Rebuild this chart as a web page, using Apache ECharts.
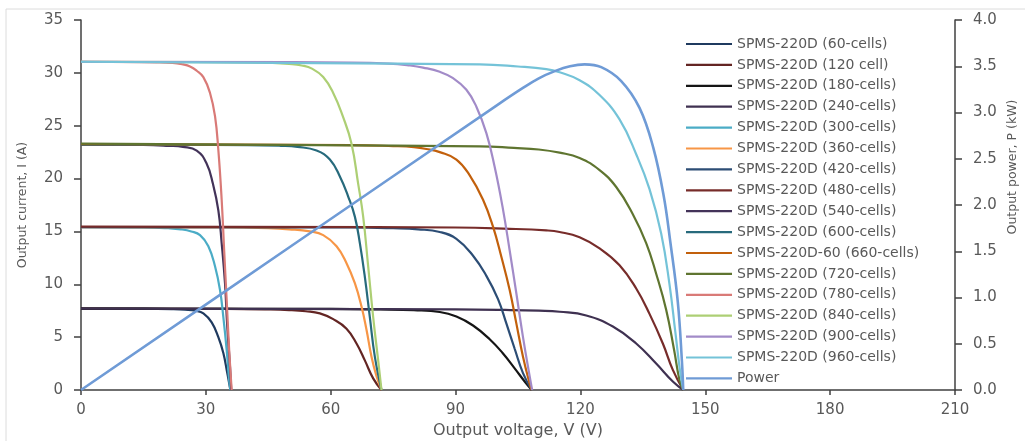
<!DOCTYPE html>
<html><head><meta charset="utf-8">
<script src="https://cdn.jsdelivr.net/npm/echarts@6/dist/echarts.min.js"></script>
<style>html,body{margin:0;padding:0;background:#fff}#c{width:1025px;height:441px}</style>
</head><body><div id="c"></div>
<script>
// ---- Data (voltage V, current A) ----
const seriesNames = [
  'SPMS-220D (60-cells)', 'SPMS-220D (120 cell)', 'SPMS-220D (180-cells)', 'SPMS-220D (240-cells)',
  'SPMS-220D (300-cells)', 'SPMS-220D (360-cells)', 'SPMS-220D (420-cells)', 'SPMS-220D (480-cells)',
  'SPMS-220D (540-cells)', 'SPMS-220D (600-cells)', 'SPMS-220D-60 (660-cells)', 'SPMS-220D (720-cells)',
  'SPMS-220D (780-cells)', 'SPMS-220D (840-cells)', 'SPMS-220D (900-cells)', 'SPMS-220D (960-cells)'
];
const powerName = 'Power';

const s60  = [[0,7.7],[15,7.69],[22,7.65],[25,7.6],[27.5,7.5],[29.4,7.25],[31.4,6.4],[33,5.0],[34.2,3.5],[35.1,1.7],[35.9,0]];
const s120 = [[0,7.7],[35,7.67],[45,7.62],[50,7.56],[54,7.45],[57.4,7.25],[60.6,6.7],[63.8,5.8],[66.2,4.4],[68.2,2.8],[70.2,1.1],[72.2,0]];
const s180 = [[0,7.7],[60,7.67],[72,7.62],[80,7.55],[86.2,7.38],[90.2,6.95],[94.2,6.1],[98.2,4.8],[101.3,3.5],[104.2,2.05],[106.6,0.8],[108.3,0]];
const s240 = [[0,7.7],[90,7.62],[102,7.57],[110,7.5],[115,7.4],[121.4,7.05],[127.8,6.0],[133.4,4.4],[138.2,2.5],[142.2,0.8],[144.7,0]];
const s300 = [[0,15.4],[15,15.38],[21,15.3],[24,15.2],[26.5,15.0],[28.6,14.65],[30.6,13.6],[32.2,11.7],[33.4,9.46],[34.2,6.9],[35,3.8],[35.6,0.9],[35.9,0]];
const s360 = [[0,15.4],[35,15.37],[45,15.3],[50,15.2],[55,15.0],[58.2,14.65],[61.4,13.6],[63.8,12.0],[65.8,10.1],[67.4,7.9],[68.6,5.7],[69.8,3.15],[71,1.3],[72.2,0]];
const s420 = [[0,15.4],[65,15.37],[75,15.3],[81,15.2],[86.2,14.95],[90.2,14.3],[94.2,12.7],[97.4,10.8],[100.2,8.6],[102.2,6.3],[104.2,3.9],[106.2,1.6],[108.3,0]];
const s480 = [[0,15.45],[90,15.37],[103,15.25],[111.8,15.1],[115,14.95],[119.8,14.45],[124.6,13.4],[129.4,11.8],[133.4,9.6],[136.6,7.2],[139.8,4.4],[142.2,1.9],[144.7,0]];
const s540 = [[0,23.2],[15,23.18],[21,23.1],[24.5,23.0],[27.8,22.65],[30.2,21.4],[31.7,19.5],[33,17.0],[33.8,13.9],[34.6,10.1],[35.1,6.3],[35.8,2.2],[36.1,0]];
const s600 = [[0,23.2],[40,23.17],[48,23.1],[52,23.0],[56.6,22.65],[59.8,21.8],[62.2,20.2],[64.2,18.3],[65.8,16.4],[67,13.9],[68.2,10.7],[69.4,6.9],[70.6,3.15],[72.2,0]];
const s660 = [[0,23.25],[65,23.17],[75,23.07],[80,22.97],[83,22.8],[86.2,22.5],[90.2,21.8],[93.4,20.3],[96.6,18.0],[99,15.45],[101,12.6],[103,9.46],[104.6,6.3],[106.2,3.15],[107.8,0.6],[108.3,0]];
const s720 = [[0,23.3],[95.8,23.05],[104,22.9],[110,22.75],[115,22.45],[119.8,21.95],[124.6,20.8],[128.6,19.2],[132.5,16.7],[135.8,13.9],[138.2,11.0],[140.6,7.6],[142.5,3.8],[143.8,0.95],[144.7,0]];
const s780 = [[0,31.05],[18,31.0],[22,30.95],[24.5,30.8],[26.2,30.6],[27.8,30.2],[29.4,29.6],[31,28.1],[32.2,25.9],[33,22.7],[33.8,18.0],[34.4,13.2],[35,8.5],[35.6,3.8],[36.2,0]];
const s840 = [[0,31.05],[40,31.0],[46,30.95],[50,30.85],[53,30.7],[55.5,30.4],[58.2,29.6],[60.6,28.1],[62.9,25.9],[65,23.3],[66.6,19.5],[67.8,16.4],[69,11.7],[70.2,6.9],[71.4,2.8],[72.2,0]];
const s900 = [[0,31.05],[65,30.98],[74,30.88],[79,30.7],[82.2,30.5],[86.2,30.1],[89.4,29.5],[92.6,28.4],[95,26.8],[97.4,24.3],[99.4,21.1],[101.3,17.3],[103,13.2],[104.6,9.15],[106.2,5.0],[107.8,1.3],[108.4,0]];
const s960 = [[0,31.05],[95.8,30.8],[105,30.6],[111.8,30.35],[115,30.05],[119.8,29.3],[124.6,27.9],[129.4,25.6],[133.4,22.3],[136.6,19.0],[139.4,14.8],[141.4,10.0],[142.8,5.5],[143.9,1.9],[144.7,0]];
// Power (V, kW) on the right axis
const power = [[0,0],[50,1.54],[100,3.08],[106,3.26],[110,3.37],[114,3.45],[117.5,3.5],[121,3.52],[125,3.49],[129.8,3.34],[134.2,3.05],[137.5,2.62],[140,2.1],[141.6,1.6],[143.4,0.95],[144.4,0.3],[144.7,0]];

const curves = [s60,s120,s180,s240,s300,s360,s420,s480,s540,s600,s660,s720,s780,s840,s900,s960];
const colors = ['#1F3A5F','#632523','#151515','#3F3151','#4BACC6','#F79646','#2C4D75','#772C2A',
                '#433359','#276A7C','#C2600C','#5F7530','#D97A77','#ADCF74','#A28BC8','#74C3D8'];
const powerColor = '#6F9BD6';

const txt = '#595959';
const font = 'DejaVu Sans';
const series = curves.map((d, i) => ({
  name: seriesNames[i], type: 'line', data: d, symbol: 'none', showSymbol: false,
  smooth: 0.45, yAxisIndex: 0,
  lineStyle: { width: 2.2, color: colors[i] }, itemStyle: { color: colors[i] }
}));
series.push({
  name: powerName, type: 'line', data: power, symbol: 'none', showSymbol: false,
  smooth: 0.4, yAxisIndex: 1,
  lineStyle: { width: 2.6, color: powerColor }, itemStyle: { color: powerColor }
});

const chart = echarts.init(document.getElementById('c'), null, { renderer: 'canvas' });
chart.setOption({
  animation: false,
  backgroundColor: '#fff',
  textStyle: { fontFamily: font },
  grid: { left: 81, right: 70, top: 20, bottom: 51, containLabel: false, outerBoundsMode: 'none' },
  legend: {
    orient: 'vertical', left: 686, top: 37, padding: 0,
    icon: 'rect', itemWidth: 46, itemHeight: 2.2, itemGap: 6.9,
    data: seriesNames.concat([powerName]),
    textStyle: { color: txt, fontSize: 14, fontFamily: font, lineHeight: 14 }
  },
  xAxis: {
    type: 'value', min: 0, max: 210, interval: 30,
    name: 'Output voltage, V (V)', nameLocation: 'middle', nameGap: 33,
    nameTextStyle: { color: txt, fontSize: 16, fontFamily: font },
    axisLine: { lineStyle: { color: '#404040', width: 1.5 } },
    axisTick: { show: true, length: 5, lineStyle: { color: '#404040', width: 1.5 } },
    axisLabel: { color: txt, fontSize: 15, margin: 13 },
    splitLine: { show: false }
  },
  yAxis: [{
    type: 'value', min: 0, max: 35, interval: 5,
    name: 'Output current, I (A)', nameLocation: 'middle', nameGap: 52,
    nameTextStyle: { color: txt, fontSize: 12.5, fontFamily: font },
    axisLine: { show: true, lineStyle: { color: '#404040', width: 1.5 } },
    axisTick: { show: true, length: 7, lineStyle: { color: '#404040', width: 1.5 } },
    axisLabel: { color: txt, fontSize: 15, margin: 18 },
    splitLine: { show: false }
  }, {
    type: 'value', min: 0, max: 4, interval: 0.5, position: 'right',
    axisLine: { show: true, lineStyle: { color: '#404040', width: 1.5 } },
    axisTick: { show: true, length: 7, lineStyle: { color: '#404040', width: 1.5 } },
    axisLabel: { color: txt, fontSize: 15, margin: 18, formatter: v => v.toFixed(1) },
    splitLine: { show: false }
  }],
  graphic: [
    { type: 'rect', shape: { x: 6, y: 9, width: 1030, height: 445 }, style: { fill: 'none', stroke: '#dcdcdc', lineWidth: 1 }, silent: true, z: -1 },
    { type: 'text', x: 1013, y: 167, rotation: Math.PI / 2,
      style: { text: 'Output power, P (kW)', fill: txt, font: '12.5px "DejaVu Sans"', textAlign: 'center', textVerticalAlign: 'middle' } }
  ],
  series: series
});
</script></body></html>
